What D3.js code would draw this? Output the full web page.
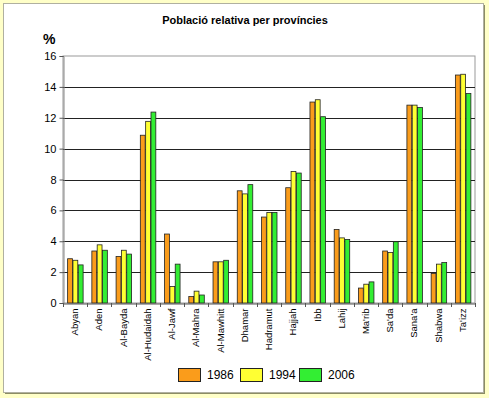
<!DOCTYPE html>
<html><head><meta charset="utf-8">
<script src="https://cdn.jsdelivr.net/npm/d3@7"></script>
<style>html,body{margin:0;padding:0;background:#fff;}svg{display:block;font-family:Arial,"Liberation Sans",sans-serif;}</style>
</head><body><svg id="c" width="489" height="398"></svg>
<script>
const categories = ["Abyan","Aden","Al-Bayda","Al-Hudaidah","Al-Jawf","Al-Mahra","Al-Mawhitt","Dhamar","Hadramut","Hajjah","Ibb","Lahij","Ma'rib","Sa'da","Sana'a","Shabwa","Ta'izz"];
const years = ["1986","1994","2006"];
const v1986 = [2.9,3.4,3.05,10.9,4.5,0.45,2.7,7.3,5.6,7.5,13.05,4.8,1.0,3.4,12.85,1.95,14.8];
const v1994 = [2.8,3.8,3.45,11.8,1.1,0.8,2.7,7.1,5.9,8.55,13.2,4.25,1.25,3.3,12.85,2.55,14.85];
const v2006 = [2.5,3.45,3.2,12.4,2.55,0.55,2.8,7.7,5.9,8.45,12.1,4.15,1.4,4.0,12.7,2.65,13.6];
const yTicks = [0,2,4,6,8,10,12,14,16];
const colors = ["#FA9C1B","#FFFF33","#33EE33"];

const series = [v1986, v1994, v2006];
const svg = d3.select("#c");

// outer frame
svg.append("rect").attr("x",0).attr("y",0).attr("width",489).attr("height",398).attr("fill","#FFFFC8");
svg.append("rect").attr("x",5).attr("y",5).attr("width",480).attr("height",389).attr("fill","#8C8C64");
svg.append("rect").attr("x",3.5).attr("y",3.5).attr("width",480).attr("height",389).attr("fill","#fff").attr("stroke","#B0B0A0");

const L=63, R=475, T=56, B=303;
const x = d3.scaleBand().domain(categories).range([L,R]).paddingInner(0.34).paddingOuter(0.17);
const xs = d3.scaleBand().domain(years).range([0,x.bandwidth()]);
const y = d3.scaleLinear().domain([0,16]).range([B,T]);

svg.append("rect").attr("x",L).attr("y",T).attr("width",R-L).attr("height",B-T).attr("fill","#fff").attr("stroke","#999");

svg.append("g").selectAll("line").data(yTicks.filter(d=>d>0 && d<16)).join("line")
  .attr("x1",L).attr("x2",R).attr("y1",d=>Math.round(y(d))+0.5).attr("y2",d=>Math.round(y(d))+0.5)
  .attr("stroke","#222").attr("stroke-width",1);

const yAxis = svg.append("g").attr("transform",`translate(${L+0.5},0)`)
  .call(d3.axisLeft(y).tickValues(yTicks).tickSize(4).tickPadding(3));
yAxis.select(".domain").attr("stroke","#888");
yAxis.selectAll(".tick line").attr("stroke","#555");
yAxis.selectAll("text").attr("font-size",11).attr("fill","#000").attr("font-family","Arial");

// bars
const g = svg.append("g");
series.forEach((s,i)=>{
  g.selectAll(null).data(s).join("rect")
    .attr("x",(d,j)=>x(categories[j])+xs(years[i])+0.5)
    .attr("y",d=>y(d)+0.5)
    .attr("width",xs.bandwidth()-0.5)
    .attr("height",d=>B-y(d)-0.5)
    .attr("fill",colors[i]).attr("stroke","#222").attr("stroke-width",0.8);
});

// x axis
const xAxis = svg.append("g").attr("transform",`translate(0,${B+0.5})`)
  .call(d3.axisBottom(x).tickSize(0).tickPadding(4));
xAxis.select(".domain").attr("stroke","#555");
xAxis.selectAll("text").attr("font-size",9.5).attr("fill","#000").attr("font-family","Arial")
  .attr("transform","rotate(-90)").attr("text-anchor","end").attr("dy","0.32em").attr("x",-5).attr("y",0);
const step = x.step();
svg.append("g").selectAll("line").data(d3.range(categories.length+1)).join("line")
  .attr("x1",d=>Math.round(L+d*step)+0.5).attr("x2",d=>Math.round(L+d*step)+0.5)
  .attr("y1",B).attr("y2",B+4).attr("stroke","#555");

// titles
svg.append("text").attr("x",245).attr("y",24).attr("text-anchor","middle").attr("font-size",11).attr("font-weight","bold").text("Població relativa per províncies");
svg.append("text").attr("x",43).attr("y",44).attr("font-size",14).attr("font-weight","bold").text("%");

// legend
const lx = [178,240,299];
years.forEach((yr,i)=>{
  svg.append("rect").attr("x",lx[i]+0.5).attr("y",368.5).attr("width",22).attr("height",13).attr("fill",colors[i]).attr("stroke","#222");
  svg.append("text").attr("x",lx[i]+29).attr("y",379).attr("font-size",12).text(yr);
});
</script></body></html>
